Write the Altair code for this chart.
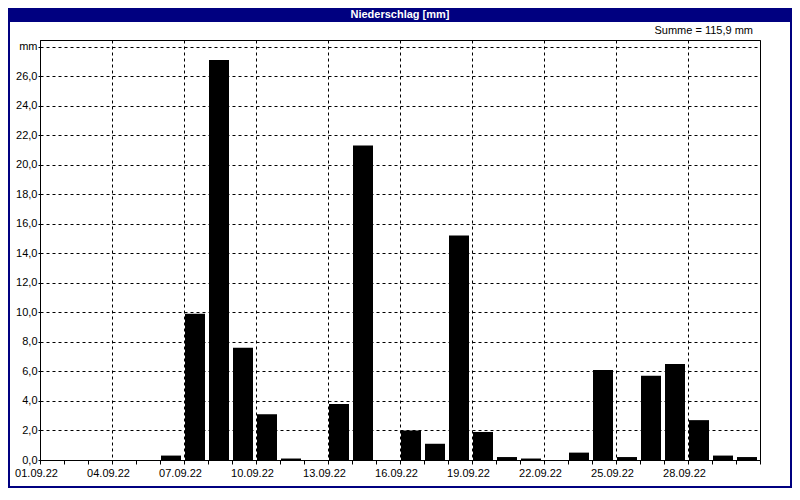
import json
import altair as alt
import pandas as pd

# ---- data ----
dates = ["01.09.22", "02.09.22", "03.09.22", "04.09.22", "05.09.22", "06.09.22",
         "07.09.22", "08.09.22", "09.09.22", "10.09.22", "11.09.22", "12.09.22",
         "13.09.22", "14.09.22", "15.09.22", "16.09.22", "17.09.22", "18.09.22",
         "19.09.22", "20.09.22", "21.09.22", "22.09.22", "23.09.22", "24.09.22",
         "25.09.22", "26.09.22", "27.09.22", "28.09.22", "29.09.22", "30.09.22"]
values = [0.0, 0.0, 0.0, 0.0, 0.0, 0.3, 9.9, 27.1, 7.6, 3.1, 0.1, 0.0, 3.8, 21.3, 0.0,
          2.0, 1.1, 15.2, 1.9, 0.2, 0.1, 0.0, 0.5, 6.1, 0.2, 5.7, 6.5, 2.7, 0.3, 0.2]
x_tick_labels = ["01.09.22", "04.09.22", "07.09.22", "10.09.22", "13.09.22",
                 "16.09.22", "19.09.22", "22.09.22", "25.09.22", "28.09.22"]
y_ticks = [0, 2, 4, 6, 8, 10, 12, 14, 16, 18, 20, 22, 24, 26, 28]
title_text = "Niederschlag [mm]"
unit = "mm"

df = pd.DataFrame({
    "date": dates,
    "start": list(range(len(dates))),
    "end": list(range(1, len(dates) + 1)),
    "value": values,
})
total = sum(values)
summe_text = ("Summe = %.1f mm" % total).replace(".", ",")

FONT = "Liberation Sans Narrow, Liberation Sans, Arial"
NAVY = "#000080"

x_label_expr = ("datum.value % 3 == 0 && datum.value < 30 ? "
                + json.dumps(x_tick_labels) + "[datum.value / 3] : ''")
y_label_expr = ("datum.value == 28 ? '" + unit + "' : "
                "replace(format(datum.value, '.1f'), '.', ',')")

x_axis = alt.Axis(
    values=list(range(0, 31)), labelExpr=x_label_expr, title=None,
    grid=True, gridColor="black", gridDash=[3, 3], gridWidth=1,
    gridOpacity=alt.condition("datum.value % 3 == 0", alt.value(1), alt.value(0)),
    tickColor="black", tickSize=4, domainColor="black",
    labelColor="black", labelFont=FONT, labelFontSize=11, labelPadding=3,
    labelOffset=-4, labelFlush=False, labelOverlap=False,
)
y_axis = alt.Axis(
    values=y_ticks, labelExpr=y_label_expr, title=None,
    grid=True, gridColor="black", gridDash=[3, 3], gridWidth=1,
    gridOpacity=alt.condition("datum.value > 0", alt.value(1), alt.value(0)),
    tickColor="black", tickSize=2, domainColor="black",
    labelColor="black", labelFont=FONT, labelFontSize=11, labelPadding=1,
    labelFlush=False, labelOverlap=False,
)

bars = alt.Chart(df).mark_rect(color="black", xOffset=1, x2Offset=-3).encode(
    x=alt.X("start:Q", scale=alt.Scale(domain=[0, 30], nice=False, zero=False), axis=x_axis),
    x2="end:Q",
    y=alt.Y("value:Q", scale=alt.Scale(domain=[0, 28.45], nice=False), axis=y_axis),
    y2=alt.datum(0),
)

# chart is 784 x 480; plot area origin sits at (32, 32) inside it
deco = alt.Chart(pd.DataFrame({"k": [0]}))
title_bar = deco.mark_rect(color=NAVY).encode(
    x=alt.value(-32), x2=alt.value(752), y=alt.value(-32), y2=alt.value(-18))
border = deco.mark_rect(fillOpacity=0, stroke=NAVY, strokeWidth=2).encode(
    x=alt.value(-31), x2=alt.value(751), y=alt.value(-31), y2=alt.value(447))
title = deco.mark_text(text=title_text, font=FONT, fontSize=11, fontWeight="bold",
                       color="white", align="center", baseline="middle").encode(
    x=alt.value(360), y=alt.value(-25))
summe = deco.mark_text(text=summe_text, font=FONT, fontSize=11, color="black",
                       align="right", baseline="middle").encode(
    x=alt.value(713), y=alt.value(-9))

chart = alt.layer(bars, title_bar, border, title, summe).properties(
    width=720, height=420,
    padding={"left": 32, "top": 32, "right": 32, "bottom": 28},
    autosize=alt.AutoSizeParams(type="none"),
    background="white",
).configure_view(stroke="black", strokeWidth=1)

chart.save("out.html", embed_options={"renderer": "svg", "actions": False})
